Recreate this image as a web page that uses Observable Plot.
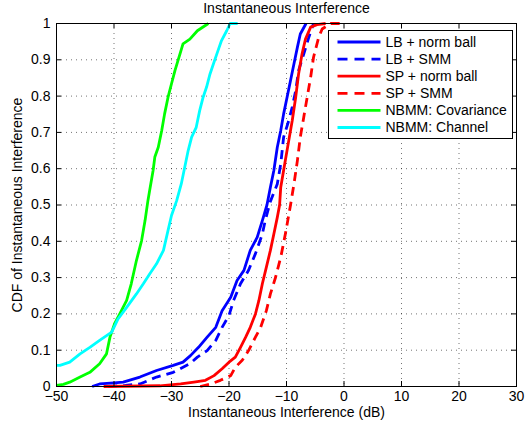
<!DOCTYPE html>
<html><head><meta charset="utf-8">
<script src="https://cdn.jsdelivr.net/npm/d3@7"></script>
<script src="https://cdn.jsdelivr.net/npm/@observablehq/plot@0.6"></script>
<style>
body{margin:0;background:#fff}
#c{position:relative;width:525px;height:431px}
svg{font-family:"Liberation Sans",Arial,Helvetica,sans-serif}
</style>
</head><body><div id="c"></div>
<script>
const titleText = "Instantaneous Interference";
const xLabel = "Instantaneous Interference (dB)";
const yLabel = "CDF of Instantaneous Interference";
const xTicks = [-50,-40,-30,-20,-10,0,10,20,30];
const yTicks = [0,0.1,0.2,0.3,0.4,0.5,0.6,0.7,0.8,0.9,1];
const yTickLabels = ["0","0.1","0.2","0.3","0.4","0.5","0.6","0.7","0.8","0.9","1"];

const seriesNames = ["LB + norm ball","LB + SMM","SP + norm ball","SP + SMM","NBMM: Covariance","NBMM: Channel"];
const seriesColors = ["#0000ff","#0000ff","#ff0000","#ff0000","#00ff00","#00ffff"];
const seriesDashed = [false,true,false,true,false,false];

const lbNormX = [-43.8,-42.5,-40,-38.4,-35.5,-32.6,-29.7,-28.0,-26.7,-25.3,-23.8,-22.3,-21.2,-19.7,-18.6,-17.4,-16.3,-15.1,-14.2,-13.4,-12.8,-12.2,-11.6,-11.0,-10.5,-9.9,-9.3,-8.7,-8.1,-7.6,-6.6];
const lbNormY = [0,0.007,0.01,0.012,0.026,0.044,0.058,0.067,0.085,0.108,0.136,0.163,0.209,0.246,0.292,0.32,0.375,0.411,0.457,0.5,0.549,0.595,0.659,0.705,0.751,0.797,0.843,0.889,0.935,0.971,1.0];

const lbSmmX = [-41,-38,-35.5,-32.6,-29.7,-26.8,-25.5,-23.8,-22.3,-21.2,-20.0,-19.2,-18.0,-16.6,-15.4,-14.2,-13.7,-12.8,-11.6,-11.0,-10.5,-9.6,-9.0,-8.4,-7.9,-7.0,-6.1,-5.3];
const lbSmmY = [0,0.003,0.007,0.026,0.039,0.063,0.081,0.099,0.127,0.163,0.196,0.237,0.283,0.32,0.366,0.42,0.457,0.51,0.558,0.613,0.687,0.733,0.77,0.815,0.87,0.916,0.963,1.0];

const spNormX = [-41.8,-32,-28.4,-26.1,-24.1,-22.6,-21.2,-20.0,-18.9,-18.0,-17.1,-16.3,-15.4,-14.8,-14.2,-13.5,-12.8,-12.2,-11.6,-11.2,-11.0,-10.2,-9.6,-9.0,-8.4,-7.9,-7.3,-6.7,-5.8,-4.7,-3.2];
const spNormY = [0,0.002,0.007,0.012,0.017,0.03,0.049,0.067,0.081,0.108,0.136,0.163,0.2,0.237,0.283,0.329,0.375,0.42,0.466,0.5,0.549,0.623,0.678,0.733,0.797,0.861,0.916,0.957,0.99,0.997,1.0];

const spSmmX = [-25,-23.2,-21.5,-19.7,-18.9,-17.7,-16.6,-15.4,-14.5,-13.5,-12.8,-11.9,-11.0,-10.2,-9.3,-8.7,-8.1,-7.6,-7.0,-6.4,-5.8,-5.3,-4.4,-3.8,-2.3,0];
const spSmmY = [0,0.007,0.017,0.03,0.053,0.072,0.099,0.136,0.163,0.209,0.255,0.301,0.356,0.42,0.5,0.558,0.623,0.687,0.742,0.797,0.852,0.907,0.962,0.985,1.0,1.0];

const covX = [-50,-48.8,-47.7,-45.9,-44.2,-42.5,-41.3,-40.7,-39.9,-39.0,-37.8,-37.0,-36.1,-35.2,-34.6,-34.1,-33.8,-33.2,-32.9,-32.3,-31.7,-31.2,-30.6,-30.0,-29.4,-28.6,-28.0,-26.8,-25.5,-23.6];
const covY = [0.003,0.006,0.012,0.026,0.039,0.0625,0.09,0.136,0.173,0.2,0.237,0.283,0.347,0.402,0.457,0.512,0.54,0.595,0.632,0.659,0.705,0.751,0.797,0.834,0.87,0.912,0.944,0.957,0.98,1.0];

const chanX = [-50,-49.4,-47.7,-45.9,-44.2,-42.5,-40.4,-39.3,-37.8,-36.1,-34.9,-33.8,-32.6,-31.4,-30.6,-30.0,-29.1,-28.3,-27.7,-27.1,-26.5,-25.7,-25.1,-24.5,-23.9,-23.3,-22.7,-21.9,-21.3,-20.4,-19.8,-18.5];
const chanY = [0.058,0.058,0.067,0.09,0.108,0.127,0.15,0.186,0.218,0.255,0.283,0.31,0.338,0.375,0.43,0.471,0.512,0.558,0.604,0.65,0.687,0.714,0.76,0.797,0.825,0.861,0.889,0.926,0.953,0.98,1.0,1.0];

const seriesX = [lbNormX, lbSmmX, spNormX, spSmmX, covX, chanX];
const seriesY = [lbNormY, lbSmmY, spNormY, spSmmY, covY, chanY];

const rows = [];
seriesX.forEach((xs, i) => xs.forEach((x, j) => rows.push({s: seriesNames[i], x, y: seriesY[i][j]})));

const W = 525, H = 431, mL = 56, mR = 9, mT = 23, mB = 45;
const ph = H - mT - mB;
const font = 14;

const lineMarks = seriesNames.map((n, i) =>
  Plot.line(rows.filter(r => r.s === n), {
    x: "x", y: "y", stroke: seriesColors[i], strokeWidth: 2.8,
    strokeDasharray: seriesDashed[i] ? "9,6" : null, strokeLinejoin: "round", strokeLinecap: "butt"
  })
);

const gridStyle = {stroke: "#000", strokeOpacity: 0.55, strokeDasharray: "1,4", strokeWidth: 1};

const chart = Plot.plot({
  width: W, height: H,
  marginLeft: mL, marginRight: mR, marginTop: mT, marginBottom: mB,
  style: {fontSize: font + "px", fontFamily: '"Liberation Sans",Arial,sans-serif', color: "#000", background: "#fff"},
  x: {domain: [-50, 30]},
  y: {domain: [0, 1]},
  marks: [
    Plot.gridX(xTicks.slice(1, -1), gridStyle),
    Plot.gridY(yTicks.slice(1, -1), gridStyle),
    ...lineMarks,
    Plot.tickX(xTicks, {x: d => d, stroke: "#000", insetTop: ph - 5}),
    Plot.tickX(xTicks, {x: d => d, stroke: "#000", insetBottom: ph - 5}),
    Plot.tickY(yTicks, {y: d => d, stroke: "#000", insetRight: (W - mL - mR) - 5}),
    Plot.tickY(yTicks, {y: d => d, stroke: "#000", insetLeft: (W - mL - mR) - 5}),
    Plot.axisX(xTicks, {tickSize: 0, tickPadding: 5, label: xLabel, labelAnchor: "center", labelArrow: "none", labelOffset: 30, fontSize: font, tickFormat: d => d < 0 ? "\u2212" + Math.abs(d) : String(d)}),
    Plot.axisY(yTicks, {tickSize: 0, tickPadding: 6, label: yLabel, labelAnchor: "center", labelArrow: "none", labelOffset: 44, fontSize: font, tickFormat: (d, i) => yTickLabels[i]}),
    Plot.text([titleText], {text: d => d, frameAnchor: "top", dy: -15, lineAnchor: "middle", fontSize: font}),
    Plot.frame({stroke: "#000", strokeWidth: 1})
  ]
});

document.getElementById("c").appendChild(chart);

// legend (inside plot area, top right)
const svg = d3.select(chart);
const lg = svg.append("g").attr("class", "legend").attr("text-anchor", "start");
const lx = 328.5, ly = 30.5, lw = 184, lh = 108;
lg.append("rect").attr("x", lx).attr("y", ly).attr("width", lw).attr("height", lh)
  .attr("fill", "#fff").attr("stroke", "#000").attr("stroke-width", 1);
seriesNames.forEach((n, i) => {
  const yy = ly + 11.5 + i * 17.1;
  lg.append("line").attr("x1", lx + 9).attr("x2", lx + 52).attr("y1", yy).attr("y2", yy)
    .attr("stroke", seriesColors[i]).attr("stroke-width", 2.8)
    .attr("stroke-dasharray", seriesDashed[i] ? "10,7" : null);
  lg.append("text").attr("x", lx + 57).attr("y", yy).attr("dy", "0.35em")
    .attr("text-anchor", "start")
    .attr("font-size", font).attr("fill", "#000").text(n);
});
</script>
</body></html>
